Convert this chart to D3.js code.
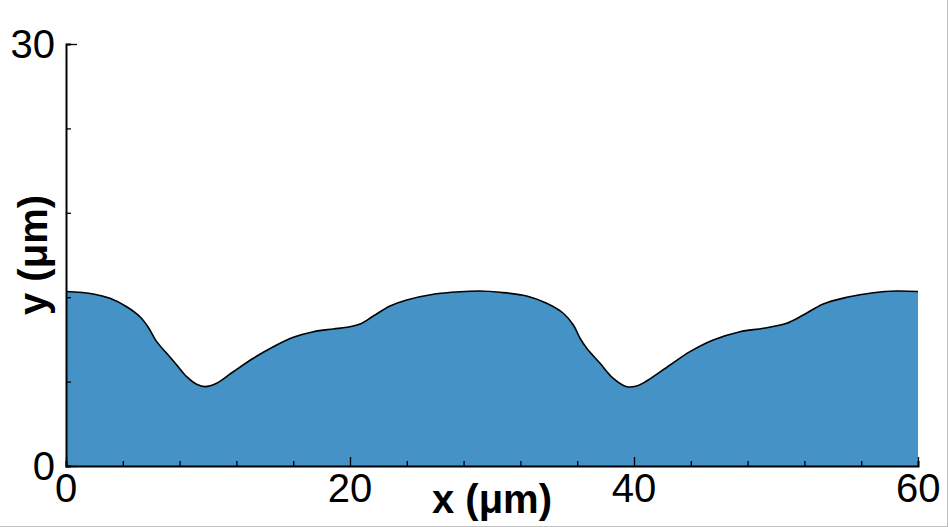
<!doctype html>
<meta charset="utf-8">
<style>
  body { margin: 0; background: #fff; }
  text { font-family: "Liberation Sans", Arial, sans-serif; }
</style>
<body>
<script src="https://cdn.jsdelivr.net/npm/d3@7"></script>
<script>
// profile (x and y in um)
var xs = [0, 1.92, 3.10, 4.27, 5.21, 5.77, 6.39, 7.09, 7.80, 8.50, 9.20, 9.79, 10.61, 11.78, 13.19, 14.60,
          16.01, 17.42, 18.82, 19.77, 20.70, 21.64, 22.82, 23.99, 25.87, 27.75, 29.15, 30.56, 32.44, 33.85,
          35.02, 35.73, 36.20, 36.67, 37.61, 38.54, 39.49, 40.19, 40.89, 42.54, 43.94, 45.58, 47.46, 49.11,
          50.75, 51.92, 53.33, 54.98, 56.85, 58.50, 60];
var ys = [12.40, 12.23, 11.92, 11.32, 10.61, 9.90, 8.84, 8.01, 7.18, 6.35, 5.81, 5.64, 5.88, 6.70, 7.66, 8.48,
          9.15, 9.55, 9.74, 9.86, 10.09, 10.66, 11.37, 11.80, 12.21, 12.39, 12.44, 12.35, 12.09, 11.57,
          10.86, 10.02, 9.08, 8.37, 7.30, 6.23, 5.64, 5.69, 6.04, 7.18, 8.13, 8.96, 9.55, 9.79,
          10.14, 10.73, 11.52, 11.99, 12.32, 12.44, 12.40];
var xTicks = [0, 20, 40, 60];
var yTicks = [0, 30];

var W = 948, H = 527;
var svg = d3.select('body').append('svg').attr('width', W).attr('height', H);

var x = d3.scaleLinear().domain([0, 60]).range([66, 918]);
var y = d3.scaleLinear().domain([0, 30]).range([466, 44]);

var pts = xs.map(function(v, i){ return [v, ys[i]]; });
var curve = d3.curveCatmullRom.alpha(0.5);

// filled region under the profile
svg.append('path')
  .datum(pts)
  .attr('fill', '#4492c6')
  .attr('d', d3.area().x(function(d){ return x(d[0]); }).y0(y(0)).y1(function(d){ return y(d[1]); }).curve(curve));

svg.append('path')
  .datum(pts)
  .attr('fill', 'none')
  .attr('stroke', '#000')
  .attr('stroke-width', 1.6)
  .attr('d', d3.line().x(function(d){ return x(d[0]); }).y(function(d){ return y(d[1]); }).curve(curve));

// axes, ticks pointing inward
var xAxis = svg.append('g').attr('transform', 'translate(0,' + y(0) + ')');
xAxis.call(d3.axisTop(x).tickValues(d3.range(0, 61, 4)).tickSize(5).tickFormat(''));
xAxis.selectAll('.tick line').filter(function(d){ return d % 20 === 0; }).attr('y2', -9);

var yAxis = svg.append('g').attr('transform', 'translate(' + x(0) + ',0)');
yAxis.call(d3.axisRight(y).tickValues(d3.range(0, 31, 6)).tickSize(5).tickFormat(''));
yAxis.selectAll('.tick line').filter(function(d){ return d === 0 || d === 30; }).attr('x2', 11);

svg.selectAll('.domain').attr('stroke', '#000').attr('stroke-width', 2);
svg.selectAll('.tick line').attr('stroke', '#000').attr('stroke-width', 1.3);

// tick labels
svg.selectAll('.xlab').data(xTicks).enter().append('text')
  .attr('x', function(d){ return x(d); }).attr('y', 502)
  .attr('text-anchor', function(d){ return d === 60 ? 'start' : 'middle'; })
  .attr('dx', function(d){ return d === 60 ? -22 : 0; })
  .style('font-size', '40px').text(function(d){ return d; });
svg.selectAll('.ylab').data(yTicks).enter().append('text')
  .attr('x', 55).attr('y', function(d){ return y(d) + 14; })
  .attr('text-anchor', 'end')
  .style('font-size', '40px').text(function(d){ return d; });

// axis titles
svg.append('text').attr('x', 492).attr('y', 513).attr('text-anchor', 'middle')
  .style('font-size', '40px').style('font-weight', 'bold').text('x (μm)');
svg.append('text').attr('transform', 'translate(47,255) rotate(-90)').attr('text-anchor', 'middle')
  .style('font-size', '40px').style('font-weight', 'bold').text('y (μm)');

// light frame on the right and bottom
svg.append('line').attr('x1', 947.5).attr('x2', 947.5).attr('y1', 0).attr('y2', 527).attr('stroke', '#c0c0c0');
svg.append('line').attr('x1', 0).attr('x2', 948).attr('y1', 526.5).attr('y2', 526.5).attr('stroke', '#c0c0c0');
</script>
</body>
